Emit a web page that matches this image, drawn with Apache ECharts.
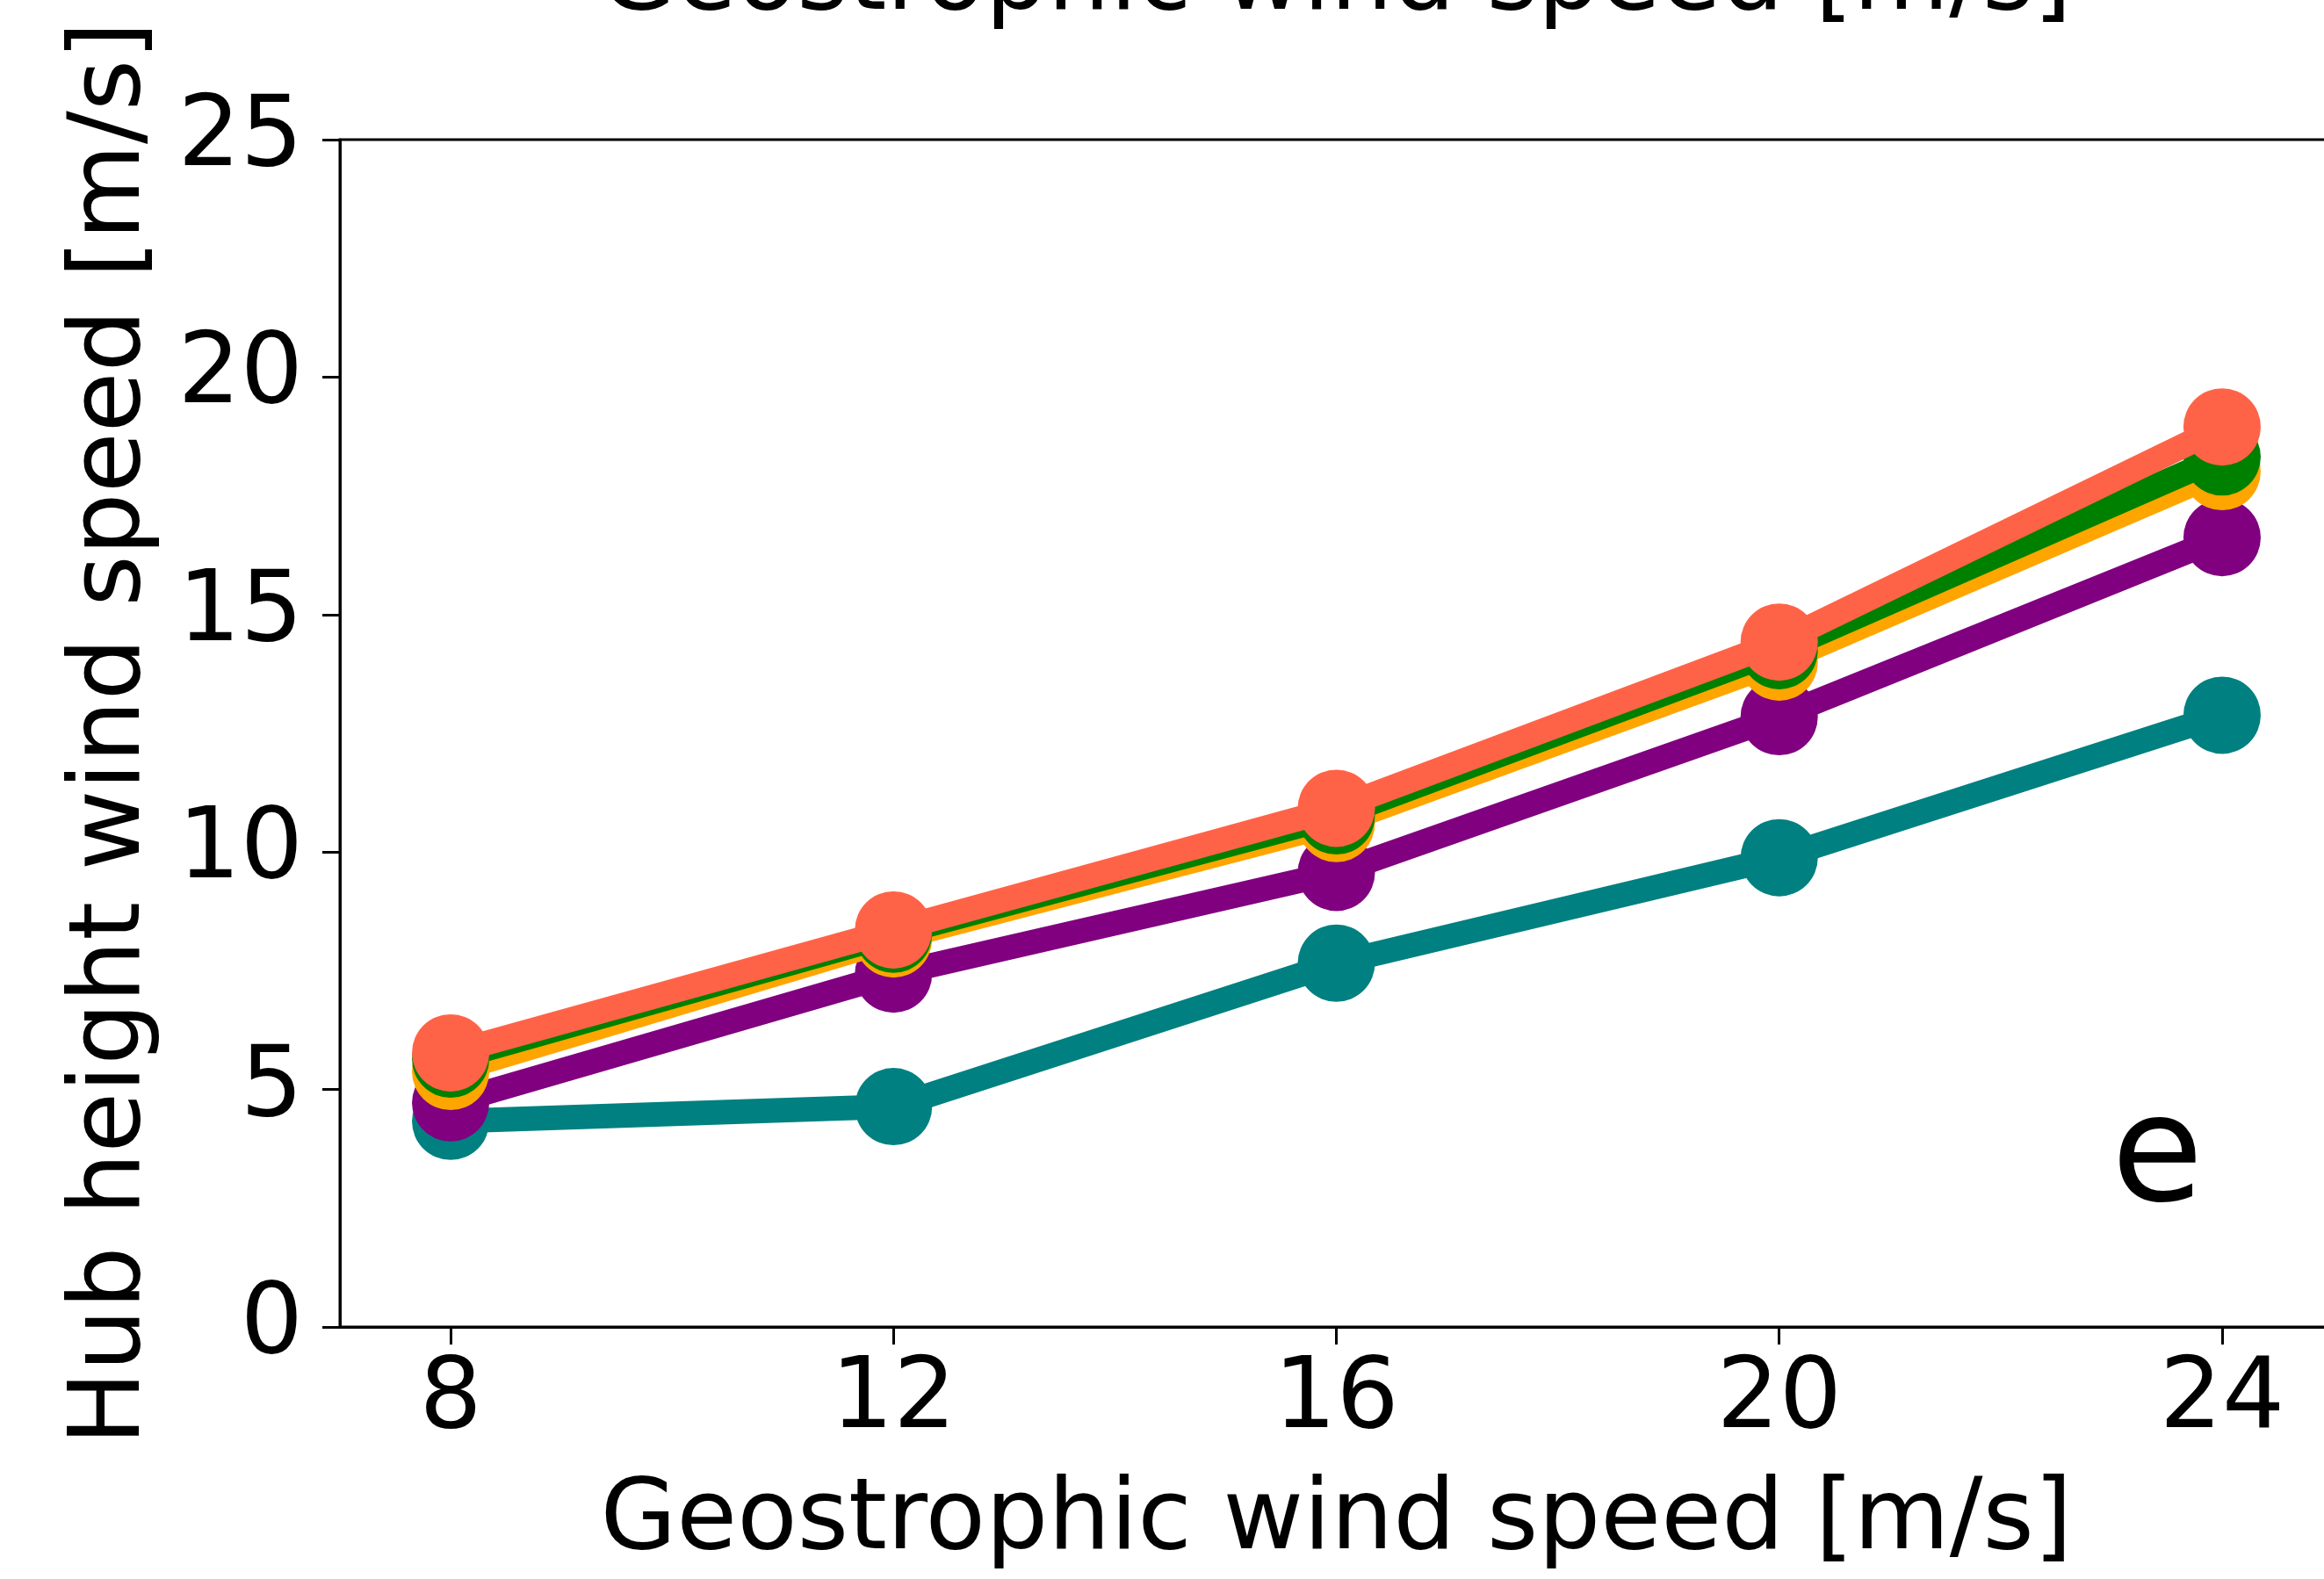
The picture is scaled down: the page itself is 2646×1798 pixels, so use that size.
<!DOCTYPE html>
<html>
<head>
<meta charset="utf-8">
<title>Hub height wind speed vs geostrophic wind speed</title>
<script src="https://cdn.jsdelivr.net/npm/echarts@6/dist/echarts.min.js"></script>
<style>
  html, body { margin: 0; padding: 0; background: #ffffff; }
  #chart { width: 2646px; height: 1798px; }
</style>
</head>
<body>
<div id="chart"></div>
<script>
// Geostrophic wind speed [m/s] (x positions of every series)
const geoSpeed = [8, 12, 16, 20, 24];

// Hub height wind speed [m/s] for each case
const tealSpeed   = [4.33, 4.64, 7.66, 9.88, 12.88];
const purpleSpeed = [4.72, 7.43, 9.57, 12.85, 16.62];
const orangeSpeed = [5.38, 8.17, 10.60, 14.00, 18.01];
const greenSpeed  = [5.64, 8.27, 10.76, 14.24, 18.32];
const tomatoSpeed = [5.77, 8.36, 10.92, 14.42, 18.95];

// Tick values
const xTicks = [8, 12, 16, 20, 24];
const yTicks = [0, 5, 10, 15, 20, 25];

const xLabel = 'Geostrophic wind speed [m/s]';
const yLabel = 'Hub height wind speed [m/s]';
const panelTag = 'e';

const FONT = 'DejaVu Sans';

const cases = [
  { name: 'teal',   color: '#008080', values: tealSpeed },
  { name: 'purple', color: '#800080', values: purpleSpeed },
  { name: 'orange', color: '#FFA500', values: orangeSpeed },
  { name: 'green',  color: '#008000', values: greenSpeed },
  { name: 'tomato', color: '#FF6347', values: tomatoSpeed }
];

const chart = echarts.init(document.getElementById('chart'), null, { renderer: 'canvas' });

const option = {
  animation: false,
  backgroundColor: '#ffffff',
  textStyle: { fontFamily: FONT },
  title: [
    {
      // x-axis label of the panel above, mostly outside the page
      text: xLabel,
      left: 1521,
      top: -75,
      padding: 0,
      textAlign: 'center',
      textStyle: { fontFamily: FONT, fontSize: 112, fontWeight: 'normal', color: '#000' }
    },
    {
      text: panelTag,
      left: 2404,
      top: 1238,
      padding: 0,
      textStyle: { fontFamily: FONT, fontSize: 170, fontWeight: 'normal', color: '#000' }
    }
  ],
  grid: {
    left: 387,
    top: 159,
    width: 2269,
    height: 1352,
    outerBoundsMode: 'none',
    containLabel: false,
    show: true,
    borderColor: '#000',
    borderWidth: 3,
    backgroundColor: 'transparent'
  },
  xAxis: {
    type: 'value',
    min: 7,
    max: 25,
    name: xLabel,
    nameLocation: 'middle',
    nameGap: 167,
    nameTextStyle: { fontFamily: FONT, fontSize: 112, color: '#000' },
    axisLine: { show: true, onZero: false, lineStyle: { color: '#000', width: 3 } },
    axisTick: { show: true, inside: false, length: 20, customValues: xTicks, lineStyle: { color: '#000', width: 3 } },
    axisLabel: { show: true, margin: 29, customValues: xTicks, fontFamily: FONT, fontSize: 112, color: '#000' },
    splitLine: { show: false }
  },
  yAxis: {
    type: 'value',
    min: 0,
    max: 25,
    interval: 5,
    name: yLabel,
    nameLocation: 'middle',
    nameGap: 202,
    nameTextStyle: { fontFamily: FONT, fontSize: 112, color: '#000' },
    axisLine: { show: true, onZero: false, lineStyle: { color: '#000', width: 3 } },
    axisTick: { show: true, inside: false, length: 20, customValues: yTicks, lineStyle: { color: '#000', width: 3 } },
    axisLabel: { show: true, margin: 42, customValues: yTicks, fontFamily: FONT, fontSize: 112, color: '#000' },
    splitLine: { show: false }
  },
  series: cases.map((c, i) => ({
    name: c.name,
    type: 'line',
    z: 2 + i,
    data: geoSpeed.map((x, k) => [x, c.values[k]]),
    symbol: 'circle',
    symbolSize: 88,
    showSymbol: true,
    clip: false,
    itemStyle: { color: c.color, borderWidth: 0 },
    lineStyle: { color: c.color, width: 28, cap: 'butt', join: 'round' },
    emphasis: { disabled: true }
  }))
};

chart.setOption(option);
</script>
</body>
</html>
